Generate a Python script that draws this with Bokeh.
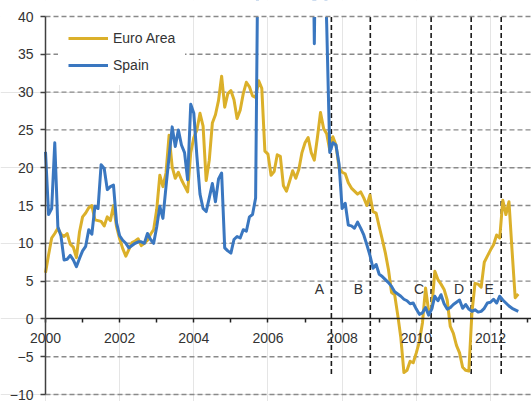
from bokeh.plotting import figure
from bokeh.models import Range1d, Legend, LegendItem, FixedTicker, LinearAxis, BasicTickFormatter
from bokeh.core.properties import value
from bokeh.embed import file_html
from bokeh.resources import INLINE

# Monthly observations, Jan 2000 .. Oct 2012 (values above 40 are off-scale, estimated)
start_year = 2000
spain = [
    22.1, 13.8, 14.6, 23.3, 12.2, 11.0, 7.8, 7.9, 8.4, 7.8,
    6.9, 8.0, 9.0, 9.6, 11.8, 11.2, 14.9, 14.6, 20.4, 19.9,
    17.1, 17.5, 17.7, 12.7, 11.0, 10.4, 10.0, 9.4, 9.7, 10.0,
    10.2, 10.2, 10.0, 11.3, 10.5, 10.0, 12.2, 14.9, 13.3, 17.5,
    21.5, 25.4, 22.8, 25.0, 23.0, 22.0, 18.4, 28.4, 27.2, 21.5,
    16.5, 14.6, 14.2, 16.0, 17.9, 15.5, 18.5, 19.3, 9.4, 9.0,
    8.7, 10.5, 10.9, 10.7, 11.8, 11.6, 13.5, 13.8, 16.0, 60.0,
    70.0, 75.0, 80.0, 78.0, 82.0, 85.0, 80.0, 78.0, 75.0, 72.0,
    70.0, 68.0, 65.0, 62.0, 60.0, 58.0, 70.0, 36.4, 70.0, 60.0,
    52.0, 39.0, 22.0, 23.3, 23.0, 20.5, 14.6, 15.3, 12.4, 12.3,
    12.0, 12.8, 12.0, 11.1, 9.8, 8.4, 6.7, 7.2, 5.9, 5.6,
    5.2, 4.8, 4.3, 3.6, 3.3, 3.0, 2.6, 2.4, 2.0, 2.1,
    1.3, 0.6, 0.8, 1.5, 0.5, 1.3, 3.0, 2.4, 3.2, 2.0,
    1.3, 1.5, 1.9, 2.2, 2.5, 1.4, 1.9, 1.3, 1.0, 1.2,
    0.9, 1.0, 1.4, 2.1, 2.2, 2.6, 2.1, 3.0, 2.5, 2.1,
    1.7, 1.4, 1.2, 1.0,
]
euro_area = [
    6.1, 8.5, 10.7, 11.3, 12.0, 11.2, 10.9, 11.3, 9.9, 9.5,
    8.1, 11.5, 13.5, 14.0, 14.7, 15.0, 13.1, 13.0, 12.9, 12.3,
    13.5, 13.0, 15.0, 12.2, 10.6, 9.3, 8.3, 9.2, 10.1, 10.3,
    10.6, 9.7, 10.0, 10.4, 11.2, 11.8, 14.5, 19.0, 17.5, 19.3,
    24.3, 20.1, 18.6, 19.4, 18.4, 17.6, 16.8, 22.0, 24.0, 25.0,
    27.2, 25.5, 18.3, 21.0, 25.9, 27.0, 28.9, 32.1, 28.0, 29.8,
    30.2, 29.0, 26.5, 27.6, 29.8, 31.3, 30.7, 29.5, 29.3, 31.5,
    30.5, 22.2, 21.8, 19.0, 19.5, 21.7, 21.5, 17.6, 16.9, 18.2,
    19.6, 18.6, 19.8, 22.0, 23.3, 24.0, 22.0, 21.0, 24.0, 27.3,
    25.2, 24.5, 22.3, 24.1, 23.0, 20.0, 19.4, 19.2, 18.0, 17.3,
    16.9, 16.5, 16.8, 16.0, 15.0, 16.4, 14.2, 14.0, 12.2, 10.5,
    8.7, 6.5, 3.5, 3.2, 0.5, -2.5, -7.1, -6.8, -5.6, -5.8,
    -4.5, -3.0, -0.5, 4.1, 1.0, 1.4, 6.3, 5.2, 4.6, 3.9,
    2.5, -1.0, -1.9, -3.5, -4.5, -6.4, -6.8, -6.9, 0.8, 4.7,
    4.6, 4.2, 7.5, 8.3, 9.1, 9.8, 11.1, 10.7, 15.7, 13.8,
    15.5, 9.0, 2.8, 3.3,
]
event_dates = [2007.71, 2008.76, 2010.40, 2011.48, 2012.29]
event_labels = ["A", "B", "C", "D", "E"]
x_major_ticks = [2000, 2002, 2004, 2006, 2008, 2010, 2012]
x_minor_ticks = [2001, 2003, 2005, 2007, 2009, 2011, 2013]
y_ticks = [-10, -5, 0, 5, 10, 15, 20, 25, 30, 35, 40]

dates = [start_year + i / 12 for i in range(len(spain))]

FONT = "Liberation Sans"
TEXT_COLOR = "#333333"
GOLD = "#DBB02A"
BLUE = "#3A77C0"
GRID_COLOR = "#8a8a8a"

# axis extent of the chart
X_MIN, X_MAX = 2000, 2013.107
Y_MIN, Y_MAX = -10, 40
# visible ranges extend past the axes so that the axis labels are inside the frame
PX_PER_YEAR = 37.08
PX_PER_UNIT = 7.56
x_lo = X_MIN - 45 / PX_PER_YEAR
y_lo = Y_MIN - 7 / PX_PER_UNIT
y_hi = Y_MAX + 16 / PX_PER_UNIT

p = figure(width=531, height=401, output_backend="svg", toolbar_location=None,
           x_range=Range1d(x_lo, X_MAX), y_range=Range1d(y_lo, y_hi),
           x_axis_location=None, y_axis_location=None, min_border=0)
p.outline_line_color = None
p.background_fill_color = "white"

# horizontal dashed gridlines (not at 0, not at the top, which is drawn last)
grid_levels = [t for t in y_ticks if t not in (0, Y_MAX)]
p.segment(x0=[X_MIN] * len(grid_levels), x1=[X_MAX] * len(grid_levels),
          y0=grid_levels, y1=grid_levels, line_color=GRID_COLOR, line_width=1.4, line_dash="5 3")

# event markers
p.segment(x0=event_dates, y0=[-7.3] * len(event_dates), x1=event_dates, y1=[Y_MAX] * len(event_dates),
          line_color="#1a1a1a", line_width=1.6, line_dash="5 3")
p.text(x=event_dates, y=[4] * len(event_dates), text=event_labels, x_offset=-12,
       text_align="center", text_baseline="middle", text_font=value(FONT),
       text_font_size="14px", text_color=TEXT_COLOR)

r_euro = p.line(dates, euro_area, line_color=GOLD, line_width=3, line_join="round")
r_spain = p.line(dates, spain, line_color=BLUE, line_width=3, line_join="round")

# mask everything above the top of the axis (off-scale part of the Spain series)
p.quad(left=x_lo - 1, right=X_MAX + 1, bottom=Y_MAX, top=y_hi + 3,
       fill_color="white", line_color="white", line_width=1)
p.segment(x0=[X_MIN], x1=[X_MAX], y0=[Y_MAX], y1=[Y_MAX],
          line_color=GRID_COLOR, line_width=1.4, line_dash="5 3")

# x axis crossing at y = 0
xa = LinearAxis(fixed_location=0, bounds=(X_MIN, X_MAX),
                ticker=FixedTicker(ticks=x_major_ticks, minor_ticks=x_minor_ticks),
                formatter=BasicTickFormatter(use_scientific=False))
xa.axis_line_color = "#222222"
xa.axis_line_width = 1.5
xa.major_tick_line_color = "#222222"
xa.minor_tick_line_color = "#222222"
xa.major_tick_line_width = 1.5
xa.minor_tick_line_width = 1.5
xa.major_tick_in = 0
xa.major_tick_out = 4
xa.minor_tick_in = 0
xa.minor_tick_out = 4
xa.major_label_standoff = 10
xa.major_label_text_font = FONT
xa.major_label_text_font_size = "14px"
xa.major_label_text_color = TEXT_COLOR
p.add_layout(xa, "below")

# y axis at x = 2000
ya = LinearAxis(fixed_location=X_MIN, bounds=(Y_MIN, Y_MAX), ticker=FixedTicker(ticks=y_ticks))
ya.axis_line_color = "#404040"
ya.axis_line_width = 1.5
ya.major_tick_line_color = "#404040"
ya.major_tick_line_width = 1.5
ya.major_tick_in = 0
ya.major_tick_out = 5
ya.minor_tick_line_color = None
ya.major_label_standoff = 7
ya.major_label_text_font = FONT
ya.major_label_text_font_size = "14px"
ya.major_label_text_color = TEXT_COLOR
p.add_layout(ya, "left")

legend = Legend(items=[LegendItem(label="Euro Area", renderers=[r_euro]),
                       LegendItem(label="Spain", renderers=[r_spain])],
                location=(58, 316), padding=10, spacing=7, margin=0,
                glyph_width=40, glyph_height=20, label_height=20, label_standoff=5,
                label_text_font=FONT, label_text_font_size="14px", label_text_color=TEXT_COLOR,
                border_line_alpha=0, background_fill_color="white", background_fill_alpha=1)
p.add_layout(legend)

open("out.html", "w").write(file_html(p, INLINE))
